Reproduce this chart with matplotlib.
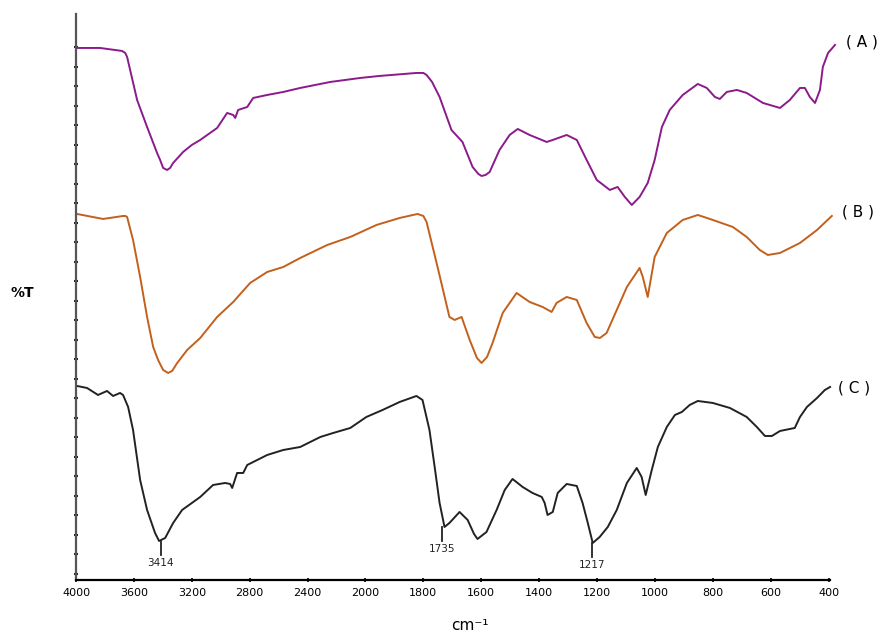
import numpy as np
import matplotlib
matplotlib.use("Agg")
import matplotlib.pyplot as plt

# FTIR spectra, wavenumber (cm-1) and offset %T
wn_a = [3993, 3834, 3682, 3660, 3647, 3578, 3509, 3440, 3419, 3398, 3371, 3350, 3329, 3260,
        3200, 3142, 3025, 2956, 2914, 2900, 2880, 2817, 2776, 2679, 2568, 2451, 2243, 2036,
        1952, 1824, 1800, 1789, 1770, 1744, 1703, 1665, 1630, 1610, 1599, 1585, 1571, 1537,
        1502, 1474, 1433, 1374, 1353, 1305, 1270, 1236, 1201, 1156, 1129, 1104, 1080, 1053,
        1025, 1001, 976, 949, 904, 852, 821, 793, 776, 752, 717, 683, 627, 568, 534, 499, 482,
        465, 447, 430, 420, 402, 378]
t_a = [53.2, 53.2, 52.9, 52.7, 52.3, 48.0, 45.3, 42.7, 42.0, 41.2, 41.0, 41.2, 41.7, 42.8,
       43.5, 44.0, 45.2, 46.7, 46.5, 46.2, 47.0, 47.3, 48.2, 48.5, 48.8, 49.2, 49.8, 50.2,
       50.4, 50.7, 50.7, 50.5, 49.8, 48.3, 45.0, 43.8, 41.3, 40.6, 40.4, 40.5, 40.8, 43.0,
       44.5, 45.1, 44.5, 43.8, 44.0, 44.5, 44.0, 42.0, 40.0, 39.0, 39.3, 38.3, 37.5, 38.3,
       39.7, 42.0, 45.3, 47.0, 48.5, 49.6, 49.2, 48.3, 48.1, 48.8, 49.0, 48.7, 47.7, 47.2, 48.0,
       49.2, 49.2, 48.3, 47.7, 49.0, 51.3, 52.7, 53.5]

wn_b = [3993, 3813, 3675, 3660, 3647, 3606, 3557, 3509, 3467, 3433, 3398, 3364, 3336, 3301,
        3232, 3142, 3025, 2914, 2797, 2679, 2568, 2451, 2264, 2105, 1962, 1882, 1820, 1800,
        1789, 1751, 1710, 1692, 1668, 1640, 1615, 1599, 1580, 1561, 1526, 1478, 1433, 1388,
        1357, 1340, 1305, 1270, 1236, 1208, 1190, 1167, 1132, 1097, 1053, 1042, 1025, 1001,
        959, 904, 852, 800, 731, 683, 638, 610, 568, 499, 440, 389]
t_b = [36.6, 36.1, 36.4, 36.4, 36.3, 34.0, 30.3, 26.3, 23.3, 22.0, 21.0, 20.7, 20.9, 21.7,
       23.0, 24.2, 26.3, 27.8, 29.7, 30.8, 31.3, 32.2, 33.5, 34.3, 35.5, 36.2, 36.6, 36.4,
       35.8, 31.3, 26.3, 26.0, 26.3, 24.0, 22.2, 21.7, 22.3, 23.7, 26.7, 28.7, 27.8, 27.3,
       26.8, 27.7, 28.3, 28.0, 25.7, 24.3, 24.2, 24.7, 27.0, 29.3, 31.2, 30.3, 28.3, 32.3,
       34.7, 36.0, 36.5, 36.0, 35.3, 34.3, 33.0, 32.5, 32.7, 33.7, 35.0, 36.4]

wn_c = [3993, 3924, 3848, 3786, 3744, 3696, 3675, 3640, 3606, 3557, 3509, 3454, 3426, 3384,
        3329, 3267, 3142, 3053, 2970, 2935, 2921, 2887, 2845, 2817, 2679, 2568, 2451, 2312,
        2223, 2105, 1997, 1941, 1882, 1824, 1803, 1779, 1761, 1744, 1727, 1710, 1675, 1647,
        1625, 1613, 1582, 1547, 1519, 1492, 1457, 1423, 1391, 1381, 1371, 1353, 1336, 1305,
        1270, 1250, 1232, 1215, 1191, 1163, 1132, 1097, 1063, 1046, 1032, 1011, 990, 959, 931,
        907, 880, 852, 800, 741, 683, 648, 620, 596, 568, 517, 499, 475, 440, 413, 395]
t_c = [19.4, 19.2, 18.5, 18.9, 18.4, 18.7, 18.5, 17.3, 15.0, 10.0, 7.0, 4.7, 3.9, 4.2,
       5.7, 7.0, 8.3, 9.5, 9.7, 9.6, 9.2, 10.7, 10.7, 11.5, 12.5, 13.0, 13.3, 14.3,
       14.7, 15.2, 16.3, 17.0, 17.8, 18.4, 18.0, 15.0, 11.3, 7.7, 5.3, 5.7, 6.8, 6.0,
       4.6, 4.1, 4.8, 7.0, 9.0, 10.1, 9.3, 8.7, 8.3, 7.7, 6.5, 6.8, 8.7, 9.6,
       9.4, 7.7, 5.7, 3.7, 4.3, 5.3, 7.0, 9.7, 11.2, 10.3, 8.5, 11.0, 13.3, 15.3, 16.5,
       16.8, 17.5, 17.9, 17.7, 17.2, 16.3, 15.3, 14.4, 14.4, 14.9, 15.2, 16.3, 17.3, 18.2,
       19.0, 19.3]

peaks = [3414, 1735, 1217]
peak_t = [3.9, 5.3, 3.7]

xticks = [4000, 3600, 3200, 2800, 2400, 2000, 1800, 1600, 1400, 1200, 1000, 800, 600, 400]


# FTIR style axis: scale doubles below 2000 cm-1
def fwd(x):
    x = np.asarray(x, dtype=float)
    return np.where(x > 2000, 2000 + (x - 2000) / 2, x)


def inv(t):
    t = np.asarray(t, dtype=float)
    return np.where(t > 2000, 2000 + (t - 2000) * 2, t)


fig = plt.figure(figsize=(8.84, 6.34), dpi=100)
ax = fig.add_axes([0.086, 0.0852, 0.853, 0.892])
ax.set_xscale('function', functions=(fwd, inv))

style = dict(lw=1.4, clip_on=False, solid_joinstyle='round')
ax.plot(wn_a, t_a, color='#8b1a8b', **style)
ax.plot(wn_b, t_b, color='#c2601c', **style)
ax.plot(wn_c, t_c, color='#222222', **style)

# peak markers on spectrum C
for p, t in zip(peaks, peak_t):
    ax.plot([p, p], [t, t - 1.4], color='#222222', lw=1.3)
    ax.text(p, t - 1.7, str(p), ha='center', va='top', fontsize=7.5, color='#222222')

ax.set_xlim(4000, 395)
ax.set_ylim(0, 56.55)
ax.set_xticks(xticks)
ax.set_xticklabels([str(v) for v in xticks])
ax.set_yticks(np.arange(53.25, 0, -1.95))
ax.set_yticklabels([])

for s in ['top', 'right']:
    ax.spines[s].set_visible(False)
ax.spines['left'].set_color('#555555')
ax.spines['left'].set_linewidth(1.6)
ax.spines['bottom'].set_linewidth(1.6)

ax.tick_params(axis='y', direction='inout', length=3, width=1.5, colors='#222222')
ax.tick_params(axis='x', direction='inout', length=3, width=1.2, labelsize=8, pad=4)

fig.text(0.532, 0.014, 'cm⁻¹', fontsize=11, ha='center', va='center')
fig.text(0.025, 0.538, '%T', fontsize=10, fontweight='bold', ha='center', va='center')

fig.text(0.975, 0.934, '( A )', fontsize=11, ha='center', va='center')
fig.text(0.971, 0.665, '( B )', fontsize=11, ha='center', va='center')
fig.text(0.966, 0.388, '( C )', fontsize=11, ha='center', va='center')

plt.savefig('out.png', dpi=100)
